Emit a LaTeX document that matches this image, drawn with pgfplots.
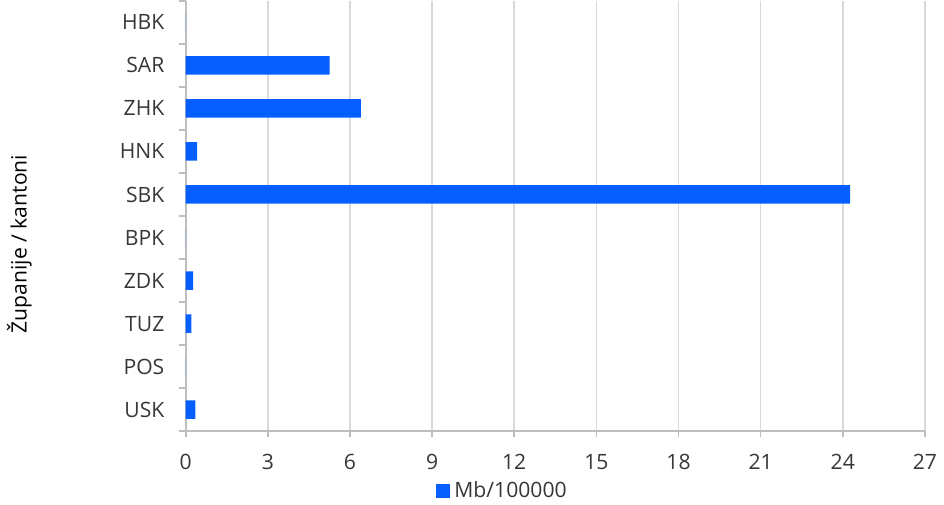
\documentclass[border=0pt]{standalone}
\usepackage{pgfplots}
\pgfplotsset{compat=1.18}
\usepackage{fontspec}
\setmainfont{Open Sans}
\definecolor{barblue}{RGB}{5,95,255}
\definecolor{txt}{RGB}{55,55,55}
\definecolor{gridc}{RGB}{217,217,217}
\definecolor{axc}{RGB}{190,190,190}
\begin{document}
\fontsize{10.6pt}{12pt}\selectfont
\begin{tikzpicture}
\begin{axis}[
  at={(0,0)}, anchor=south west,
  scale only axis,
  width=371pt, height=216pt,
  xmin=0, xmax=27,
  ymin=-0.5, ymax=9.5,
  xtick={0,3,...,27},
  ytick={0,...,9},
  yticklabels={USK,POS,TUZ,ZDK,BPK,SBK,HNK,ZHK,SAR,HBK},
  minor ytick={-0.5,0.5,...,9.5},
  axis lines*=left,
  axis line style={axc, line width=0.8pt},
  xmajorgrids,
  major grid style={gridc, line width=0.8pt},
  tick align=outside,
  major tick length=3pt,
  minor tick length=3.5pt,
  major y tick style={draw=none},
  minor y tick style={draw=axc, line width=0.8pt},
  x tick style={draw=axc, line width=0.8pt},
  tick label style={font=\fontsize{10.6pt}{12pt}\selectfont, text=txt},
  xticklabel style={yshift=-5pt},
  yticklabel style={xshift=-4pt},
  /pgf/number format/assume math mode=true,
  ylabel={Županije / kantoni},
  ylabel style={font=\fontsize{10.2pt}{12pt}\selectfont, text=black},
  every axis y label/.style={at={(axis description cs:-0.225,0.435)}, rotate=90, anchor=center},
  xbar,
  bar width=9.3pt,
  legend style={at={(axis description cs:0.43,-0.139)}, anchor=center, draw=none, fill=none,
    font=\fontsize{10.6pt}{12pt}\selectfont, text=txt, inner sep=0pt},
  legend image code/.code={\fill[barblue] (0pt,-3.5pt) rectangle (7pt,3.5pt);},
]
\addplot[fill=barblue, draw=none] coordinates {
  (0.35,0) (0,1) (0.21,2) (0.27,3) (0,4) (24.27,5) (0.42,6) (6.40,7) (5.26,8) (0,9)
};
\addlegendentry{Mb/100000}
\end{axis}
\useasboundingbox (-93pt,-35pt) rectangle (379pt,216pt);
\end{tikzpicture}
\end{document}
